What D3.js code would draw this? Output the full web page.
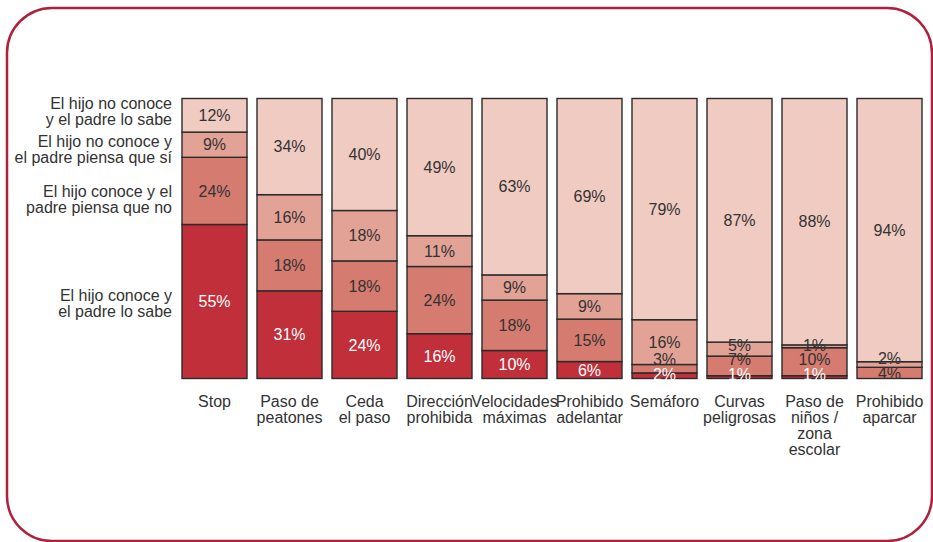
<!DOCTYPE html>
<html>
<head>
<meta charset="utf-8">
<script src="https://cdn.jsdelivr.net/npm/d3@7"></script>
<style>
  html, body { margin: 0; padding: 0; background: #fff; }
  svg { display: block; }
  text { font-family: "Liberation Sans", Arial, Helvetica, sans-serif; fill: #333; }
</style>
</head>
<body>
<svg id="chart" width="933" height="542"></svg>
<script>
// ---- Data ----
const categories = [
  "Stop", "Paso de|peatones", "Ceda|el paso", "Dirección|prohibida",
  "Velocidades|máximas", "Prohibido|adelantar", "Semáforo",
  "Curvas|peligrosas", "Paso de|niños /|zona|escolar", "Prohibido|aparcar"
];
const seriesNames = [
  "El hijo conoce y|el padre lo sabe",
  "El hijo conoce y el|padre piensa que no",
  "El hijo no conoce y|el padre piensa que sí",
  "El hijo no conoce|y el padre lo sabe"
];
const conoceSabe      = [55, 31, 24, 16, 10, 6, 2, 1, 1, 0];
const conocePiensaNo  = [24, 18, 18, 24, 18, 15, 3, 7, 10, 4];
const noConocePiensaSi= [ 9, 16, 18, 11,  9,  9, 16, 5, 1, 2];
const noConoceSabe    = [12, 34, 40, 49, 63, 69, 79, 87, 88, 94];
const colors = ["#c02f3a", "#d57b6f", "#e3a296", "#f0cbc2"];
const labelColors = ["#ffffff", "#333333", "#333333", "#333333"];

// ---- Build table ----
const keys = ["s0", "s1", "s2", "s3"];
const seriesArrays = [conoceSabe, conocePiensaNo, noConocePiensaSi, noConoceSabe];
const table = categories.map((c, i) => {
  const row = { cat: c };
  keys.forEach((k, j) => row[k] = seriesArrays[j][i]);
  return row;
});
const stacked = d3.stack().keys(keys).offset(d3.stackOffsetExpand)(table);

const svg = d3.select("#chart");

// Frame
const fx0 = 7, fy0 = 8, fx1 = 932, fy1 = 541, r = 45;
svg.append("rect")
  .attr("x", fx0).attr("y", fy0)
  .attr("width", fx1 - fx0).attr("height", fy1 - fy0)
  .attr("rx", r).attr("ry", r)
  .attr("fill", "none").attr("stroke", "#b0203a").attr("stroke-width", 2.5);

// Scales
const x = d3.scaleBand().domain(categories).range([177, 927])
  .paddingInner(10 / 75).paddingOuter(5 / 75);
const y = d3.scaleLinear().domain([0, 1]).range([378.5, 98.5]);

// Bars
const g = svg.append("g");
stacked.forEach((s, j) => {
  g.append("g").selectAll("rect").data(s).join("rect")
    .attr("x", d => x(d.data.cat))
    .attr("width", x.bandwidth())
    .attr("y", d => y(d[1]))
    .attr("height", d => y(d[0]) - y(d[1]))
    .attr("fill", colors[j])
    .attr("stroke", "#2b2b2b")
    .attr("stroke-width", 1.4);
});

// Value labels: centred in segment, pushed upward when crowded
const labelPos = {};
categories.forEach((c, i) => {
  let prev = Infinity;
  stacked.forEach((s, j) => {
    const d = s[i];
    if (d.data[keys[j]] <= 0) return;
    let cy = Math.min((y(d[0]) + y(d[1])) / 2, y(0) - 4.5);
    cy = Math.min(cy, prev - 14.5);
    labelPos[c + "_" + j] = cy;
    prev = cy;
  });
});
stacked.forEach((s, j) => {
  g.append("g").selectAll("text").data(s.filter(d => d.data[keys[j]] > 0)).join("text")
    .attr("x", d => x(d.data.cat) + x.bandwidth() / 2)
    .attr("y", d => labelPos[d.data.cat + "_" + j])
    .attr("dy", "0.36em")
    .attr("text-anchor", "middle")
    .attr("font-size", 16)
    .style("fill", labelColors[j])
    .text(d => d.data[keys[j]] + "%");
});

// Category labels (x axis, no line)
const xAxis = d3.axisBottom(x).tickSize(0).tickFormat("");
const ax = svg.append("g").attr("transform", "translate(0,378.5)").call(xAxis);
ax.select(".domain").remove();
ax.selectAll(".tick").each(function(d) {
  const t = d3.select(this).append("text")
    .attr("text-anchor", "middle")
    .attr("font-size", 16)
    .style("fill", "#333");
  d.split("|").forEach((line, i) => {
    t.append("tspan").attr("x", 0).attr("y", 28.5 + i * 16).text(line);
  });
});

// Legend labels aligned with the first bar's segments
const nudge = [1.5, 8, 4.5, -4];
const first = stacked.map(s => s[0]);
seriesNames.forEach((name, j) => {
  const cy = (y(first[j][0]) + y(first[j][1])) / 2 + nudge[j];
  const lines = name.split("|");
  const t = svg.append("text")
    .attr("text-anchor", "end")
    .attr("font-size", 16)
    .style("fill", "#333");
  lines.forEach((line, i) => {
    t.append("tspan").attr("x", 172)
      .attr("y", cy - (lines.length - 1) * 8 + i * 16)
      .attr("dy", "0.35em")
      .text(line);
  });
});
</script>
</body>
</html>
